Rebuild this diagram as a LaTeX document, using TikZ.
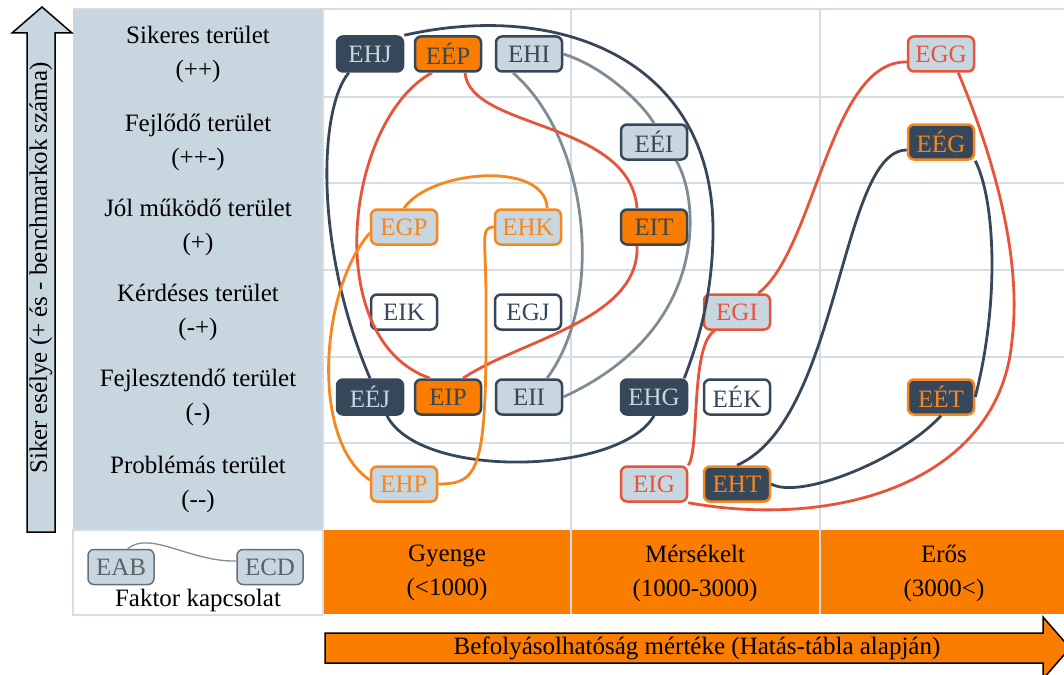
\documentclass[tikz,border=0pt]{standalone}
\usepackage{fontspec}
\setmainfont{Liberation Serif}
\usetikzlibrary{positioning}

\definecolor{slate}{RGB}{55,71,90}
\definecolor{mist}{RGB}{200,214,224}
\definecolor{tang}{RGB}{250,125,0}
\definecolor{brick}{RGB}{232,84,58}
\definecolor{steel}{RGB}{127,140,148}
\definecolor{gridc}{RGB}{212,221,229}
\definecolor{amber}{RGB}{245,135,30}

\begin{document}
\begin{tikzpicture}[
x=1pt, y=-1pt, on grid,
every node/.style = {font=\fontsize{25}{34}\selectfont, align=center},
box/.style = {rounded corners=6pt, minimum width=66pt, minimum height=35pt,
              inner sep=0pt, line width=2.5pt},
dk/.style  = {box, fill=slate, draw=slate, text=mist},
og/.style  = {box, fill=tang, draw=slate, text=slate},
lt/.style  = {box, fill=mist, draw=slate, text=slate},
wh/.style  = {box, fill=white, draw=slate, text=slate},
lo/.style  = {box, fill=mist, draw=amber, text=amber},
lr/.style  = {box, fill=mist, draw=brick, text=brick},
dko/.style = {box, fill=slate, draw=amber, text=amber},
lg/.style  = {box, fill=mist, draw=steel!80!black, text=steel!70!black, line width=1.5pt},
gridl/.style = {draw=gridc, line width=2pt},
cdk/.style = {draw=slate, line width=2.8pt},
cgr/.style = {draw=steel, line width=2.8pt},
crd/.style = {draw=brick, line width=2.8pt},
cor/.style = {draw=amber, line width=2.8pt},
                    ]
\useasboundingbox (0,0) rectangle (1064,674);
% table
\fill[mist] (73,9) rectangle (323,530);
\fill[tang] (323,530) rectangle (1064,614);
\draw[gridl] (73,9) -- (1064,9);
\draw[gridl] (323,96.7) -- (1064,96.7);
\draw[gridl] (323,183.3) -- (1064,183.3);
\draw[gridl] (323,270) -- (1064,270);
\draw[gridl] (323,356.7) -- (1064,356.7);
\draw[gridl] (323,443.3) -- (1064,443.3);
\draw[gridl] (323,9) -- (323,530);
\draw[gridl] (571,9) -- (571,614);
\draw[gridl] (820,9) -- (820,614);
\draw[gridl] (73,530) rectangle (323,615);
%
\node (r1) at (198,54)  {Sikeres terület\\(++)};
\node (r2) at (198,142) {Fejlődő terület\\(++-)};
\node (r3) at (198,227) {Jól működő terület\\(+)};
\node (r4) at (198,312) {Kérdéses terület\\(-+)};
\node (r5) at (198,397) {Fejlesztendő terület\\(-)};
\node (r6) at (198,484) {Problémás terület\\(-{}-)};
%
\node (c1) at (447,573) {Gyenge\\(<1000)};
\node (c2) at (695,573) {Mérsékelt\\(1000-3000)};
\node (c3) at (944,573) {Erős\\(3000<)};
% legend
\node[lg] (EAB) at (121,567) {EAB};
\node[lg] (ECD) at (270,567) {ECD};
\node (fk) at (198,600) {Faktor kapcsolat};
\draw[draw=steel, line width=1.3pt] (EAB.70) .. controls (150,530) and (190,562) .. ([yshift=6pt]ECD.west);
% axes
\draw[fill=mist, line width=1.5pt] (27,532) -- (27,33) -- (12,33) -- (42,7) -- (72,33)
      -- (55,33) -- (55,532) -- cycle;
\node[rotate=90] (ytxt) at (41,268) {Siker esélye (+ és - benchmarkok száma)};
\draw[fill=tang, line width=1.5pt] (325,633) -- (1043,633) -- (1043,617) -- (1070,648)
      -- (1043,679) -- (1043,663) -- (325,663) -- cycle;
\node (xtxt) at (697,648) {Befolyásolhatóság mértéke (Hatás-tábla alapján)};
% factors
\node[dk]  (EHJ) at (370,54) {EHJ};
\node[og]  (EEP) [right=78pt of EHJ] {EÉP};
\node[lt]  (EHI) [right=81pt of EEP] {EHI};
\node[lt]  (EEI) at (654,142) {EÉI};
\node[lr]  (EGG) at (941,54) {EGG};
\node[dko] (EEG) at (941,142) {EÉG};
\node[lo]  (EGP) at (404,227) {EGP};
\node[lo]  (EHK) [right=124pt of EGP] {EHK};
\node[og]  (EIT) at (654,227) {EIT};
\node[wh]  (EIK) at (404,312) {EIK};
\node[wh]  (EGJ) [right=124pt of EIK] {EGJ};
\node[lr]  (EGI) at (737,312) {EGI};
\node[dk]  (EEJ) at (370,397) {EÉJ};
\node[og]  (EIP) [right=78pt of EEJ] {EIP};
\node[lt]  (EII) [right=81pt of EIP] {EII};
\node[dk]  (EHG) at (654,397) {EHG};
\node[wh]  (EEK) [right=83pt of EHG] {EÉK};
\node[dko] (EET) at (941,397) {EÉT};
\node[lo]  (EHP) at (404,484) {EHP};
\node[lr]  (EIG) at (654,484) {EIG};
\node[dko] (EHT) [right=83pt of EIG] {EHT};
%
\draw[cdk] (EHJ.north east) .. controls (560,0) and (713,60) .. (713,230)
           .. controls (713,300) and (695,350) .. ([xshift=-4pt]EHG.north east);
\draw[cdk] ([xshift=13pt]EHJ.south west) .. controls (318,110) and (315,250) .. (EEJ.north);
\draw[cdk] ([xshift=17pt]EEJ.south) .. controls (420,480) and (620,475) .. (EHG.south);
\draw[cdk] ([yshift=-8pt]EEG.west) .. controls (840,150) and (840,420) .. (EHT.north);
\draw[cdk] (EEG.south east) .. controls (995,200) and (1000,300) .. (EET.east);
\draw[cdk] (EET.south) .. controls (900,460) and (800,500) .. (EHT.east);
%
\draw[cgr] ([xshift=-16pt]EHI.south) .. controls (590,140) and (605,300) .. ([xshift=18pt]EII.north);
\draw[cgr] (EHI.east) .. controls (600,65) and (640,100) .. (EEI.north);
\draw[cgr] ([xshift=-12pt]EEI.south east) .. controls (700,200) and (710,330) .. (EII.east);
%
\draw[crd] ([xshift=-16pt]EEP.south) .. controls (345,120) and (320,340) .. ([xshift=-18pt]EIP.north);
\draw[crd] ([xshift=17pt]EEP.south) .. controls (470,130) and (630,120) .. ([xshift=-17pt]EIT.north);
\draw[crd] ([xshift=-17pt]EIT.south) .. controls (640,320) and (520,340) .. ([xshift=15pt]EIP.north);
\draw[crd] ([yshift=-8pt]EGG.west) .. controls (830,60) and (815,250) .. ([xshift=-13pt]EGI.north east);
\draw[crd] ([xshift=-17pt]EGG.south east) .. controls (995,160) and (1022,260) .. (1012,340)
           .. controls (1000,480) and (840,530) .. (EIG.south east);
\draw[crd] ([xshift=12pt]EGI.south west) .. controls (690,345) and (700,450) .. (EIG.north east);
%
\draw[cor] (EGP.north) .. controls (430,170) and (545,160) .. ([xshift=-15pt]EHK.north east);
\draw[cor] ([yshift=-6pt]EGP.west) .. controls (320,290) and (310,440) .. ([yshift=4pt]EHP.west);
\draw[cor] (EHK.west) .. controls (480,227) and (486,240) .. (486,300)
           .. controls (487,470) and (480,484) .. (EHP.east);
\end{tikzpicture}
\end{document}
